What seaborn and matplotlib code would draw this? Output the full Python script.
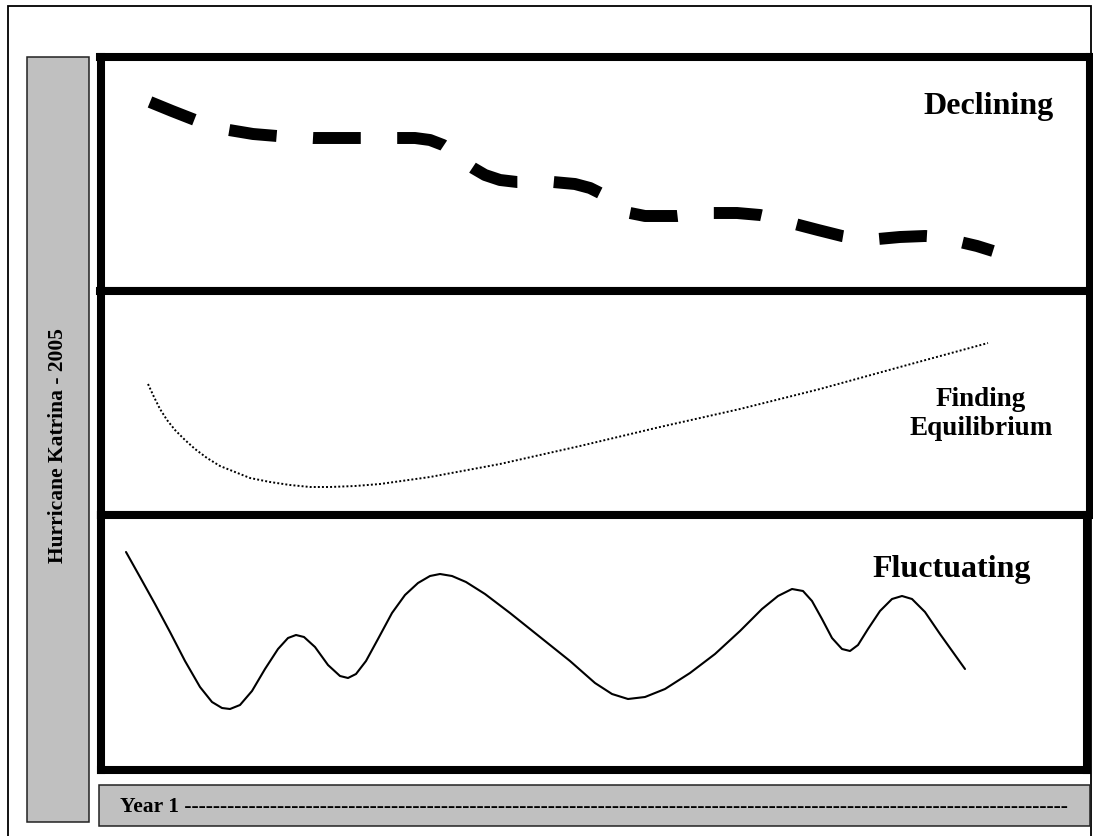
import matplotlib
matplotlib.use("Agg")
import matplotlib.pyplot as plt
import pandas as pd
import seaborn as sns
from matplotlib.patches import Rectangle

W, H = 1093, 837

# curves (x = horizontal position, y = vertical position, image units)
declining_x = [150, 172, 195, 212, 229, 253, 277, 295, 313, 337, 361, 379, 397, 415,
               430, 443, 452, 460, 467, 473, 485, 500, 517, 535, 553, 575, 590, 600,
               612, 622, 630, 645, 660, 677, 695, 713, 737, 760, 778, 795, 818, 842,
               860, 878, 900, 925, 942, 960, 977, 993]
declining_y = [103, 112, 121, 127, 131, 135, 137, 138, 139, 139, 139, 139, 139, 139,
               141, 146, 152, 160, 165, 169, 176, 181, 183, 183, 183, 185, 189, 194,
               203, 210, 214, 217, 217, 217, 215, 214, 214, 216, 220, 225, 231, 237,
               240, 240, 238, 237, 238, 243, 247, 252]

equilibrium_x = [148, 154, 160, 167, 175, 185, 195, 207, 220, 235, 250, 270, 290, 310,
                 330, 355, 380, 430, 500, 580, 660, 740, 820, 900, 988]
equilibrium_y = [385, 398, 410, 421, 431, 441, 450, 459, 467, 473, 479, 483, 486, 488,
                 488, 487, 485, 478, 465, 447, 428, 410, 390, 368, 344]

fluct_x = [126, 140, 155, 170, 185, 200, 212, 222, 230, 240, 252, 265, 278, 288, 296,
           304, 315, 328, 340, 348, 356, 366, 378, 392, 405, 418, 430, 440, 452, 466,
           485, 510, 540, 570, 595, 612, 628, 645, 665, 690, 715, 740, 762, 778, 792,
           803, 812, 822, 832, 842, 850, 858, 868, 880, 892, 902, 912, 925, 940, 955,
           965]
fluct_y = [553, 578, 605, 633, 662, 688, 703, 709, 710, 706, 692, 670, 650, 639, 636,
           638, 648, 666, 677, 679, 675, 662, 640, 614, 596, 584, 577, 575, 577, 583,
           595, 614, 638, 662, 684, 695, 700, 698, 690, 674, 655, 632, 610, 597, 590,
           592, 602, 620, 639, 650, 652, 646, 630, 612, 600, 597, 600, 613, 635, 656,
           670]

panel_labels = ["Declining", "Finding\nEquilibrium", "Fluctuating"]
side_label = "Hurricane Katrina - 2005"
bottom_label = "Year 1 " + "-" * 124


def frac(x0, y0, x1, y1):
    return [x0 / W, 1 - y1 / H, (x1 - x0) / W, (y1 - y0) / H]


def grey_box(fig, x0, y0, x1, y1):
    b = frac(x0, y0, x1, y1)
    fig.add_artist(Rectangle((b[0], b[1]), b[2], b[3], transform=fig.transFigure,
                             facecolor="#C0C0C0", edgecolor="#222222", lw=1.1))


sns.set_theme(style="white")
plt.rcParams["font.family"] = ["Liberation Serif", "DejaVu Serif"]
plt.rcParams["text.color"] = "black"

fig = plt.figure(figsize=(W / 100, H / 100), dpi=100)
fig.patch.set_facecolor("white")

# outer frame (open at the bottom edge of the picture) and grey bars
b = frac(8, 7, 1091, 845)
fig.add_artist(Rectangle((b[0], b[1]), b[2], b[3], transform=fig.transFigure,
                         fill=False, edgecolor="black", lw=1.3))
grey_box(fig, 27, 58, 89, 823)
grey_box(fig, 99, 786, 1090, 827)

fig.text(58 / W, 1 - 446 / H, side_label, rotation=90, ha="center", va="center",
         fontsize=15.5, fontweight="bold", color="black")
fig.text(120 / W, 1 - 807 / H, bottom_label, ha="left", va="center",
         fontsize=15.5, fontweight="bold", color="black")

# panels: (left, top, right, bottom) in image units
panels = [(100.5, 58, 1090, 292), (100.5, 292, 1089.5, 516), (100.5, 516, 1086.5, 771)]
axes = []
for (x0, y0, x1, y1) in panels:
    ax = fig.add_axes(frac(x0, y0, x1, y1))
    ax.set_xlim(x0, x1)
    ax.set_ylim(y1, y0)
    ax.set_xticks([])
    ax.set_yticks([])
    ax.set_facecolor("white")
    for s in ax.spines.values():
        s.set_visible(True)
        s.set_color("black")
        s.set_linewidth(5.8)
    axes.append(ax)

d1 = pd.DataFrame({"x": declining_x, "y": declining_y})
d2 = pd.DataFrame({"x": equilibrium_x, "y": equilibrium_y})
d3 = pd.DataFrame({"x": fluct_x, "y": fluct_y})

sns.lineplot(data=d1, x="x", y="y", ax=axes[0], color="black", linewidth=8.6,
             linestyle=(0, (4.0, 3.05)), dash_capstyle="butt", dash_joinstyle="round",
             estimator=None)
sns.lineplot(data=d2, x="x", y="y", ax=axes[1], color="black", linewidth=1.4,
             linestyle=(0, (1, 1.1)), dash_capstyle="butt", estimator=None)
sns.lineplot(data=d3, x="x", y="y", ax=axes[2], color="black", linewidth=1.5,
             solid_joinstyle="round", estimator=None)

for ax in axes:
    ax.set_xlabel("")
    ax.set_ylabel("")

axes[0].text(1054, 107, panel_labels[0], ha="right", va="center", fontsize=23,
             fontweight="bold", color="black")
axes[1].text(981, 414, panel_labels[1], ha="center", va="center", fontsize=19.5,
             fontweight="bold", linespacing=1.25, color="black")
axes[2].text(952, 570, panel_labels[2], ha="center", va="center", fontsize=23,
             fontweight="bold", color="black")

fig.savefig("out.png", dpi=100)
